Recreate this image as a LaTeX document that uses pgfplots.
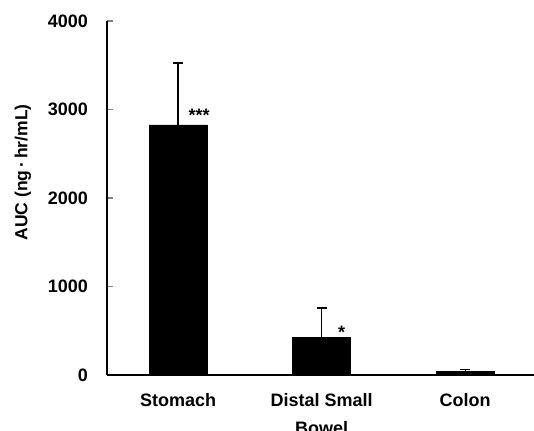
\documentclass[border=0pt]{standalone}
\usepackage{fontspec}
\setmainfont{Liberation Sans}
\usepackage{pgfplots}
\pgfplotsset{compat=1.18}
\begin{document}
\begin{tikzpicture}
\begin{axis}[
  at={(0,0)}, anchor=south west,
  scale only axis, width=427pt, height=354pt,
  xmin=-0.495, xmax=2.48, ymin=0, ymax=4000,
  axis x line*=bottom, axis y line*=left,
  axis line style={-, line width=1.1pt},
  ytick={0,1000,2000,3000,4000},
  xtick={0,1,2},
  xticklabels={Stomach, {Distal Small\\Bowel}, Colon},
  ytick align=inside, major tick length=6pt,
  ytick style={line width=1.1pt},
  xtick style={draw=none},
  /pgf/number format/assume math mode=true,
  /pgf/number format/1000 sep={},
  scaled y ticks=false,
  yticklabel style={font=\fontsize{18}{21}\selectfont\bfseries, inner sep=0pt, xshift=-19pt},
  xticklabel style={font=\fontsize{18}{28}\selectfont\bfseries, inner sep=0pt, yshift=-18pt, align=center, anchor=north},
  ylabel={AUC (ng{\,}·{\,}hr/mL)},
  every axis y label/.style={at={(axis description cs:0,0.572)}, xshift=-84pt, rotate=90, anchor=center, font=\fontsize{17.5}{21}\selectfont\bfseries},
  clip=false,
]
\addplot[ybar, bar width=58pt, fill=black, draw=black,
  error bars/.cd, y dir=plus, y explicit,
  error bar style={line width=1.1pt, black},
  error mark options={rotate=90, mark size=5pt, line width=1.1pt, black}]
  coordinates {(0,2825) +- (0,700) (1,429) +- (0,328) (2,45) +- (0,15)};
\node[anchor=base, font=\fontsize{18}{21}\selectfont\bfseries, xshift=21pt, inner sep=0pt] at (axis cs:0,2870) {***};
\node[anchor=base, font=\fontsize{18}{21}\selectfont\bfseries, xshift=20pt, inner sep=0pt] at (axis cs:1,407) {*};
\end{axis}
\pgfresetboundingbox
\path[use as bounding box] (-107pt,-55pt) rectangle (427pt,375pt);
\end{tikzpicture}
\end{document}
